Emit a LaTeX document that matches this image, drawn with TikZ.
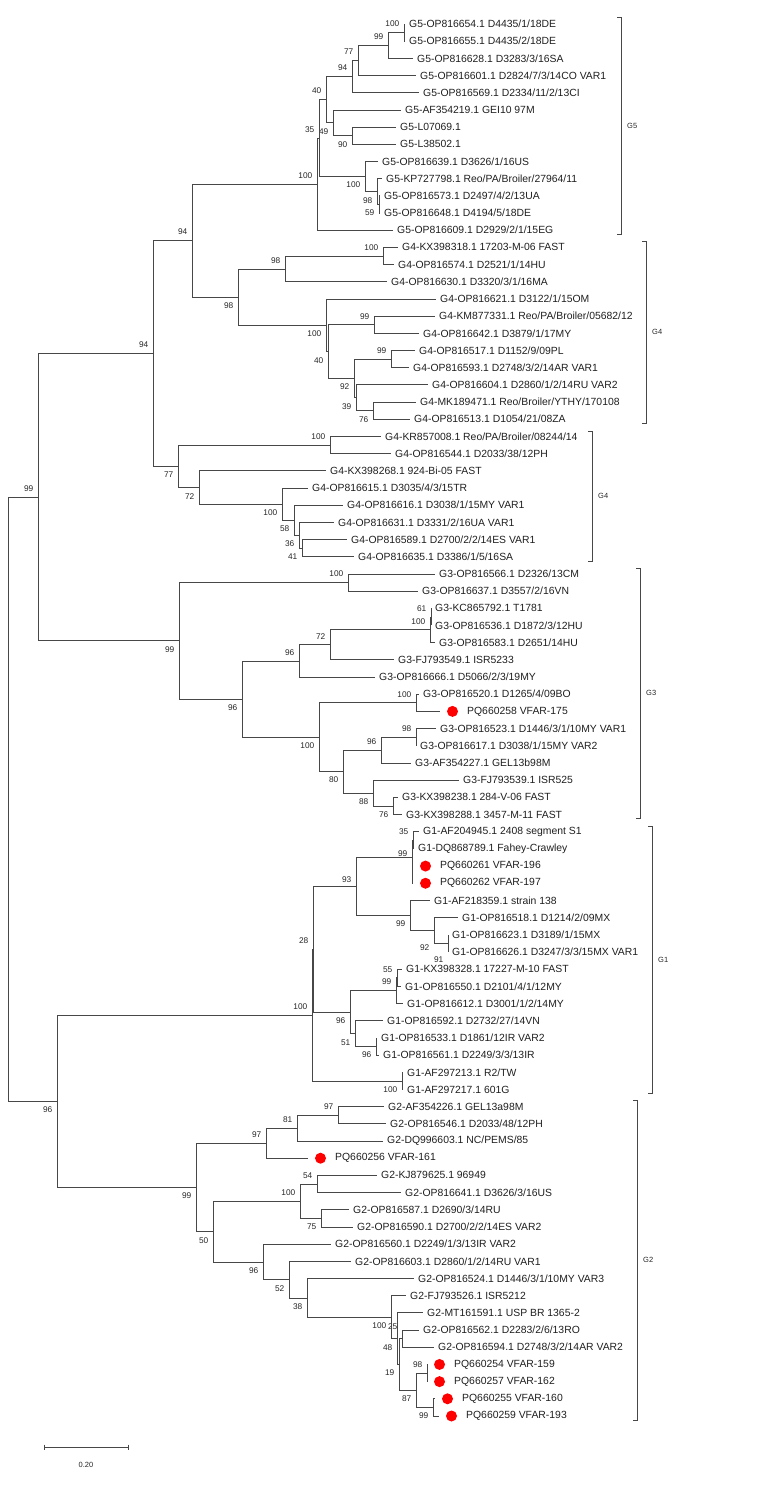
\documentclass[tikz,border=0pt]{standalone}
\usepackage{fontspec}
\setmainfont{Liberation Sans}
\usepackage{tikz}
\usetikzlibrary{calc}

\begin{document}
\begin{tikzpicture}[x=1pt, y=-1pt,
	branch/.style={draw=black!72, line width=0.8pt},
	leaf/.style={anchor=west, inner xsep=4pt, inner ysep=0pt, text=black!88, font=\fontsize{10.4}{12}\selectfont},
	boot/.style={anchor=east, inner sep=0pt, text=black!85, font=\fontsize{8.3}{10}\selectfont},
	vfar/.style={circle, fill=red, inner sep=0pt, minimum size=11pt},
	clade/.style={draw=black!72, line width=0.8pt},
	cladename/.style={anchor=west, inner sep=0pt, text=black!85, font=\fontsize{7.5}{9}\selectfont}]

	\useasboundingbox (0,0) rectangle (768,1498);

	% reference sequences (leaf i sits at y = 24 + (i-1)*17.185)
	\foreach \i/\t/\l in {1/405/{G5-OP816654.1 D4435/1/18DE}, 2/405/{G5-OP816655.1 D4435/2/18DE},
		3/413/{G5-OP816628.1 D3283/3/16SA}, 4/416/{G5-OP816601.1 D2824/7/3/14CO VAR1},
		5/419/{G5-OP816569.1 D2334/11/2/13CI}, 6/401/{G5-AF354219.1 GEI10 97M},
		7/396/{G5-L07069.1}, 8/396/{G5-L38502.1}, 9/378/{G5-OP816639.1 D3626/1/16US},
		10/382/{G5-KP727798.1 Reo/PA/Broiler/27964/11}, 11/380/{G5-OP816573.1 D2497/4/2/13UA},
		12/380/{G5-OP816648.1 D4194/5/18DE}, 13/393/{G5-OP816609.1 D2929/2/1/15EG},
		14/398/{G4-KX398318.1 17203-M-06 FAST}, 15/394/{G4-OP816574.1 D2521/1/14HU},
		16/387/{G4-OP816630.1 D3320/3/1/16MA}, 17/436/{G4-OP816621.1 D3122/1/15OM},
		18/435/{G4-KM877331.1 Reo/PA/Broiler/05682/12}, 19/419/{G4-OP816642.1 D3879/1/17MY},
		20/415/{G4-OP816517.1 D1152/9/09PL}, 21/409/{G4-OP816593.1 D2748/3/2/14AR VAR1},
		22/428/{G4-OP816604.1 D2860/1/2/14RU VAR2}, 23/416/{G4-MK189471.1 Reo/Broiler/YTHY/170108},
		24/410/{G4-OP816513.1 D1054/21/08ZA}, 25/381/{G4-KR857008.1 Reo/PA/Broiler/08244/14},
		26/391/{G4-OP816544.1 D2033/38/12PH}, 27/326/{G4-KX398268.1 924-Bi-05 FAST},
		28/308/{G4-OP816615.1 D3035/4/3/15TR}, 29/343/{G4-OP816616.1 D3038/1/15MY VAR1},
		30/334/{G4-OP816631.1 D3331/2/16UA VAR1}, 31/347/{G4-OP816589.1 D2700/2/2/14ES VAR1},
		32/354/{G4-OP816635.1 D3386/1/5/16SA}, 33/435/{G3-OP816566.1 D2326/13CM},
		34/418/{G3-OP816637.1 D3557/2/16VN}, 35/431/{G3-KC865792.1 T1781},
		36/431/{G3-OP816536.1 D1872/3/12HU}, 37/435/{G3-OP816583.1 D2651/14HU},
		38/394/{G3-FJ793549.1 ISR5233}, 39/375/{G3-OP816666.1 D5066/2/3/19MY},
		40/419/{G3-OP816520.1 D1265/4/09BO}, 42/436/{G3-OP816523.1 D1446/3/1/10MY VAR1},
		43/416/{G3-OP816617.1 D3038/1/15MY VAR2}, 44/411/{G3-AF354227.1 GEL13b98M},
		45/459/{G3-FJ793539.1 ISR525}, 46/398/{G3-KX398238.1 284-V-06 FAST},
		47/402/{G3-KX398288.1 3457-M-11 FAST}, 48/419/{G1-AF204945.1 2408 segment S1},
		49/414/{G1-DQ868789.1 Fahey-Crawley}, 52/430/{G1-AF218359.1 strain 138},
		53/458/{G1-OP816518.1 D1214/2/09MX}, 54/448/{G1-OP816623.1 D3189/1/15MX},
		55/448/{G1-OP816626.1 D3247/3/3/15MX VAR1}, 56/402/{G1-KX398328.1 17227-M-10 FAST},
		57/401/{G1-OP816550.1 D2101/4/1/12MY}, 58/403/{G1-OP816612.1 D3001/1/2/14MY},
		59/383/{G1-OP816592.1 D2732/27/14VN}, 60/377/{G1-OP816533.1 D1861/12IR VAR2},
		61/379/{G1-OP816561.1 D2249/3/3/13IR}, 62/403/{G1-AF297213.1 R2/TW},
		63/403/{G1-AF297217.1 601G}, 64/384/{G2-AF354226.1 GEL13a98M},
		65/386/{G2-OP816546.1 D2033/48/12PH}, 66/383/{G2-DQ996603.1 NC/PEMS/85},
		68/377/{G2-KJ879625.1 96949}, 69/401/{G2-OP816641.1 D3626/3/16US},
		70/349/{G2-OP816587.1 D2690/3/14RU}, 71/353/{G2-OP816590.1 D2700/2/2/14ES VAR2},
		72/331/{G2-OP816560.1 D2249/1/3/13IR VAR2}, 73/351/{G2-OP816603.1 D2860/1/2/14RU VAR1},
		74/414/{G2-OP816524.1 D1446/3/1/10MY VAR3}, 75/406/{G2-FJ793526.1 ISR5212},
		76/423/{G2-MT161591.1 USP BR 1365-2}, 77/419/{G2-OP816562.1 D2283/2/6/13RO},
		78/434/{G2-OP816594.1 D2748/3/2/14AR VAR2}}
	\node [leaf] (l\i) at (\t,{24+(\i-1)*17.185}) {\l};

	% new isolates (red dots)
	\foreach \i/\t/\l in {41/440/{PQ660258 VFAR-175}, 50/413/{PQ660261 VFAR-196},
		51/413/{PQ660262 VFAR-197}, 67/308/{PQ660256 VFAR-161}, 79/427/{PQ660254 VFAR-159},
		80/427/{PQ660257 VFAR-162}, 81/435/{PQ660255 VFAR-160}, 82/439/{PQ660259 VFAR-193}}
	{
		\node [leaf] (l\i) at (\t,{24+(\i-1)*17.185}) {\hspace{23pt}\l};
		\node [vfar] (v\i) at ([xshift=12.5pt]l\i.west) {};
	}

	% internal nodes: name/x/y/bootstrap/label offset
	\foreach \n/\x/\y/\b/\s in {g5a/404/32.6/100/-8.6, g5b/388/45.5/99/-8.6, g5c/358/60.5/77/-8.6,
		g5d/352/76.6/94/-8.6, g5e/326/99.7/40/-8.6, g5g/352/135.7/90/8.6, g5f/333/122.8/49/8.6,
		g5l/379/204.5/59/8.6, g5k/377/191.6/98/8.6, g5j/365/176.5/100/8.6, g5h/319/138/35/-8.6,
		g5/317/184/100/-8.6,
		g4m/383/256/100/-8.6, g4n/285/269/98/-8.6, g4q/374/324.8/99/-8.6, g4s/391/359.1/99/-8.6,
		g4u/373/410.7/76/8.6, g4t/356/397.8/39/8.6, g4r/354/378.5/92/8.6, g4p/328/351.6/40/8.6,
		g4o/326/325.3/100/8.6, g4/238/297/98/8.6, g54/192/240.5/94/-8.6,
		g4v/330/445.1/100/-8.6, g4aa/302/548.2/41/8.6, g4z/299/535.3/36/8.6, g4y/294/520.3/58/8.6,
		g4x/282/504.2/100/8.6, g4w/199/487.5/72/8.6, g4b/178/466.3/77/8.6, g45/153/353.4/94/-8.6,
		g3bb/348/582.5/100/-8.6, g3dd/431/616.9/61/-8.6, g3cc/430/629.8/100/-8.6,
		g3ee/330/644.8/72/-8.6, g3ff/299/660.9/96/-8.6, g3ii/416/702.8/100/-8.6,
		g3mm/416/737.2/98/-8.6, g3kk/381/750/96/-8.6, g3nn/393/805.9/76/8.6, g3ll/373/793/88/8.6,
		g3jj/343/771.5/80/8.6, g3hh/319/737.2/100/8.6, g3gg/242/699/96/8.6, g3/179/640.8/99/8.6,
		g1oo/413/840.3/35/-8.6, g1qq/412/874.7/{}/0, g1pp/412/857.5/99/-3.5, g1tt/434/930.5/92/17.5,
		g1uu/448/943.4/91/16.6, g1ss/410/915.5/99/8.6, g1rr/356/886.5/93/-6.5, g1zz/397/977.8/55/-8.6,
		g1ww/396/990.7/99/-8.6, g1aaa/376/1046.5/96/8.6, g1xx/355/1033.6/51/8.6, g1vv/350/1012/96/8.6,
		g128/313/949.3/28/-8.6, g1bbb/402/1080.9/100/8.6, g1/312/1015.1/100/-8.6,
		g2ccc/338/1115.2/97/-8.6, g2ddd/297/1128.1/81/-8.6, g2eee/266/1143.1/97/-8.6,
		g2hhh/317/1184/54/-8.6, g2iii/321/1218.4/75/8.6, g2ggg/300/1201.2/100/-8.6,
		g2ooo/402/1338.7/25/-12, g2qqq/427/1373/98/-8.6, g2rrr/433/1407.4/99/8.6,
		g2sss/416/1390.2/87/8.6, g2ttt/399/1364.5/19/8.6, g2nnn/397/1338.7/48/8.6,
		g2mmm/391/1317.2/100/8.6, g2lll/307/1297.9/38/8.6, g2kkk/289/1279.6/52/8.6,
		g2jjj/263/1261.9/96/8.6, g2fff/213/1231.6/50/8.6, g2/196/1187.4/99/8.6,
		up/38/497.1/99/-8.6, g12/57/1101.3/96/8.6}
	{
		\coordinate (\n) at (\x,\y);
		\node [boot] (b-\n) at (\x-4.5,\y+\s) {\b};
	}
	\coordinate (root) at (8,799.2);

	% branches
	\foreach \p/\c in {g5a/l1, g5a/l2, g5b/g5a, g5b/l3, g5c/g5b, g5c/l4, g5d/g5c, g5d/l5,
		g5e/g5d, g5e/g5f, g5f/l6, g5f/g5g, g5g/l7, g5g/l8, g5l/l11, g5l/l12, g5k/l10, g5k/g5l,
		g5j/l9, g5j/g5k, g5h/g5e, g5h/g5j, g5/g5h, g5/l13,
		g4m/l14, g4m/l15, g4n/g4m, g4n/l16, g4q/l18, g4q/l19, g4s/l20, g4s/l21, g4u/l23, g4u/l24,
		g4t/l22, g4t/g4u, g4r/g4s, g4r/g4t, g4p/g4q, g4p/g4r, g4o/l17, g4o/g4p, g4/g4n, g4/g4o,
		g54/g5, g54/g4,
		g4v/l25, g4v/l26, g4aa/l31, g4aa/l32, g4z/l30, g4z/g4aa, g4y/l29, g4y/g4z, g4x/l28, g4x/g4y,
		g4w/l27, g4w/g4x, g4b/g4v, g4b/g4w, g45/g54, g45/g4b,
		g3bb/l33, g3bb/l34, g3dd/l35, g3dd/l36, g3cc/g3dd, g3cc/l37, g3ee/g3cc, g3ee/l38,
		g3ff/g3ee, g3ff/l39, g3ii/l40, g3ii/l41, g3mm/l42, g3mm/l43, g3kk/g3mm, g3kk/l44,
		g3nn/l46, g3nn/l47, g3ll/l45, g3ll/g3nn, g3jj/g3kk, g3jj/g3ll, g3hh/g3ii, g3hh/g3jj,
		g3gg/g3ff, g3gg/g3hh, g3/g3bb, g3/g3gg,
		g1oo/l48, g1oo/l49, g1qq/l50, g1qq/l51, g1pp/g1oo, g1pp/g1qq, g1uu/l54, g1uu/l55,
		g1tt/l53, g1tt/g1uu, g1ss/l52, g1ss/g1tt, g1rr/g1pp, g1rr/g1ss, g1zz/l56, g1zz/l57,
		g1ww/g1zz, g1ww/l58, g1aaa/l60, g1aaa/l61, g1xx/l59, g1xx/g1aaa, g1vv/g1ww, g1vv/g1xx,
		g128/g1rr, g128/g1vv, g1bbb/l62, g1bbb/l63, g1/g128, g1/g1bbb,
		g2ccc/l64, g2ccc/l65, g2ddd/g2ccc, g2ddd/l66, g2eee/g2ddd, g2eee/l67, g2hhh/l68, g2hhh/l69,
		g2iii/l70, g2iii/l71, g2ggg/g2hhh, g2ggg/g2iii, g2ooo/l77, g2ooo/l78, g2qqq/l79, g2qqq/l80,
		g2rrr/l81, g2rrr/l82, g2sss/g2qqq, g2sss/g2rrr, g2ttt/g2ooo, g2ttt/g2sss, g2nnn/l76,
		g2nnn/g2ttt, g2mmm/l75, g2mmm/g2nnn, g2lll/l74, g2lll/g2mmm, g2kkk/l73, g2kkk/g2lll,
		g2jjj/l72, g2jjj/g2kkk, g2fff/g2ggg, g2fff/g2jjj, g2/g2eee, g2/g2fff,
		up/g45, up/g3, g12/g1, g12/g2, root/up, root/g12}
	\draw [branch] (\p) |- (\c);

	% genotype brackets
	\foreach \x/\a/\b/\g [count=\k] in {621/17/234/G5, 646/241/423/G4, 592/431/561/G4,
		640/568/818.5/G3, 652/826/1093.5/G1, 637/1100.6/1420/G2}
	{
		\draw [clade] (\x-4,\a) -- (\x,\a) -- (\x,\b) -- (\x-4,\b);
		\node [cladename] (geno-\k) at (\x+6,{(\a+\b)/2}) {\g};
	}

	% scale bar
	\draw [clade] (44,1444.5) -- (44,1449.5) (44,1447) -- (128,1447) (128,1444.5) -- (128,1449.5);
	\node [cladename, anchor=center] (scale) at (86,1465) {0.20};

\end{tikzpicture}
\end{document}
